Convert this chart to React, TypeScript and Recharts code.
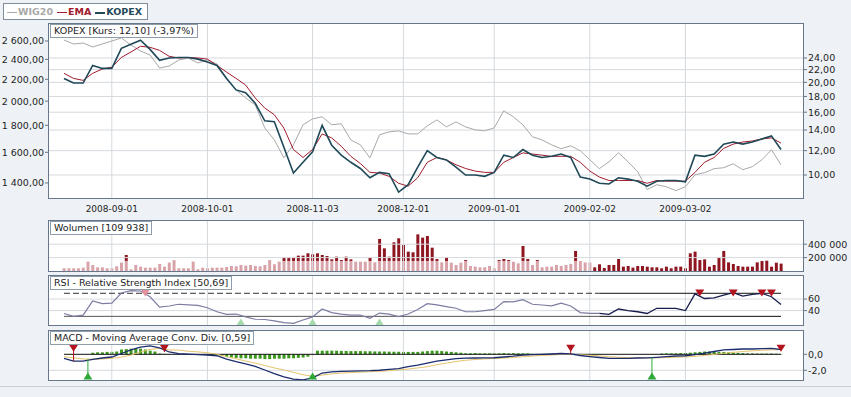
import React from 'react';
import { ComposedChart, Line, Bar, XAxis, YAxis, ReferenceLine, Scatter } from 'recharts';

// session index of each date label on the time axis
const dateTicks = [10, 30, 52, 71, 90, 110, 130];
const dateLabels = ['2008-09-01', '2008-10-01', '2008-11-03', '2008-12-01', '2009-01-01', '2009-02-02', '2009-03-02'];

// price lines are read every second session
const STEP = 2;

const wig20 = [
  2611, 2566, 2577, 2533, 2566, 2600, 2634, 2555, 2489, 2446,
  2311, 2331, 2393, 2414, 2362, 2393, 2352, 2213, 2100, 2028,
  1968, 1780, 1689, 1562, 1653, 1804, 1851, 1868, 1804, 1812,
  1689, 1653, 1562, 1727, 1749, 1757, 1734, 1734, 1796, 1843,
  1788, 1827, 1788, 1765, 1757, 1780, 1917, 1868, 1804, 1712,
  1689, 1653, 1625, 1646, 1611, 1549, 1490, 1535, 1597, 1535,
  1471, 1360, 1389, 1377, 1354, 1377, 1451, 1464, 1490, 1496,
  1522, 1483, 1503, 1549, 1618, 1515,
];

const ema = [
  21.4, 20.6, 20.3, 21.4, 22.1, 22.4, 24.1, 25.1, 26.2, 26.0,
  25.4, 24.3, 24.0, 24.1, 24.0, 23.8, 22.7, 21.6, 20.6, 19.6,
  17.8, 16.5, 15.7, 14.2, 12.1, 11.4, 12.1, 13.6, 13.2, 12.4,
  11.5, 10.9, 10.2, 10.15, 9.9, 9.4, 9.2, 9.8, 11.0, 11.4,
  11.2, 10.8, 10.5, 10.3, 10.2, 10.2, 11.0, 11.4, 11.8, 11.7,
  11.6, 11.5, 11.5, 11.5, 11.0, 10.3, 9.85, 9.6, 9.6, 9.6,
  9.6, 9.4, 9.6, 9.55, 9.55, 9.55, 10.2, 11.0, 11.4, 12.2,
  12.6, 12.8, 12.9, 13.1, 13.2, 12.7,
];

const kopex = [
  20.6, 19.9, 19.9, 22.7, 22.2, 22.2, 25.8, 26.6, 27.4, 25.6,
  23.6, 24.0, 24.1, 24.1, 23.8, 23.3, 22.7, 20.6, 18.9, 18.5,
  17.1, 15.0, 14.9, 12.3, 10.15, 11.0, 11.9, 14.5, 12.5, 11.6,
  11.0, 10.5, 9.8, 10.2, 10.1, 8.8, 9.3, 10.6, 12.0, 11.4,
  11.2, 10.6, 10.0, 10.0, 9.9, 10.2, 11.6, 11.4, 12.1, 11.6,
  11.4, 11.5, 11.7, 11.4, 9.85, 9.7, 9.4, 9.35, 9.8, 9.7,
  9.55, 9.2, 9.55, 9.6, 9.6, 9.5, 11.6, 11.5, 11.7, 12.6,
  12.8, 12.6, 12.8, 13.1, 13.4, 12.1,
];

const rsi = [
  35, 30, 32, 56.6, 52, 53, 70.5, 74.5, 74, 64,
  46, 48, 51, 50, 49, 45, 38, 33.5, 34, 29,
  25, 24.5, 22.3, 19, 18, 23.6, 29, 42.7, 36.6, 34,
  32.3, 32.3, 26.5, 35.7, 34, 29.6, 34, 41.8, 52, 50,
  47, 44, 38, 38, 40, 42, 55.7, 55, 59, 51,
  49.7, 48.3, 53, 48, 36.6, 35, 35, 33.5, 42.7, 40,
  38, 35, 44, 44, 44, 40, 69, 61, 62, 67,
  71, 65, 68, 70, 64, 50.7,
];

const macd = [
  -0.5, -0.84, -0.84, -0.63, -0.46, -0.34, 0.1, 0.54, 0.91, 1.06,
  0.79, 0.29, 0.08, 0.01, -0.04, -0.09, -0.18, -0.59, -0.93, -1.21,
  -1.5, -1.96, -2.4, -2.81, -3.09, -3.19, -2.94, -2.34, -2.19, -2.13,
  -2.09, -2.08, -2.05, -1.99, -1.88, -1.78, -1.55, -1.34, -1.09, -0.84,
  -0.69, -0.53, -0.49, -0.46, -0.44, -0.43, -0.34, -0.24, -0.11, -0.04,
  0, 0.04, 0.1, 0.06, -0.15, -0.28, -0.4, -0.5, -0.5, -0.5,
  -0.46, -0.44, -0.38, -0.3, -0.21, -0.18, -0.05, 0.16, 0.35, 0.54,
  0.6, 0.66, 0.66, 0.7, 0.73, 0.6,
];

const macdSignal = [
  -0.3, -0.45, -0.58, -0.62, -0.58, -0.5, -0.35, -0.1, 0.3, 0.6,
  0.75, 0.55, 0.52, 0.38, 0.3, 0.2, 0.0, -0.3, -0.55, -0.85,
  -1.1, -1.4, -1.7, -1.95, -2.25, -2.55, -2.75, -2.6, -2.45, -2.35,
  -2.28, -2.23, -2.18, -2.12, -2.05, -1.95, -1.85, -1.7, -1.55, -1.3,
  -1.1, -0.9, -0.75, -0.65, -0.58, -0.52, -0.47, -0.4, -0.3, -0.22,
  -0.15, -0.08, -0.03, 0.0, -0.05, -0.12, -0.2, -0.3, -0.37, -0.42,
  -0.44, -0.45, -0.44, -0.41, -0.37, -0.32, -0.25, -0.14, -0.02, 0.12,
  0.25, 0.35, 0.43, 0.5, 0.55, 0.58,
];

// one value per session (volume in thousands)
const volume = [
  40, 40, 40, 40, 50, 140, 90, 55, 55, 40,
  40, 70, 125, 239, 25, 90, 65, 50, 50, 50,
  105, 65, 125, 155, 40, 40, 40, 140, 25, 50,
  40, 50, 50, 50, 60, 75, 70, 90, 80, 90,
  75, 70, 90, 155, 100, 140, 199, 199, 199, 229,
  229, 264, 249, 264, 239, 224, 174, 214, 164, 214,
  174, 139, 139, 139, 199, 129, 478, 338, 214, 428,
  488, 388, 289, 279, 547, 498, 522, 348, 179, 129,
  204, 124, 90, 124, 164, 75, 65, 55, 55, 75,
  40, 164, 179, 164, 139, 114, 373, 179, 90, 164,
  55, 65, 65, 90, 75, 90, 105, 299, 149, 129,
  124, 55, 100, 45, 90, 90, 179, 65, 75, 50,
  75, 75, 65, 55, 55, 40, 65, 40, 65, 65,
  40, 264, 289, 164, 174, 65, 90, 204, 299, 129,
  105, 75, 65, 65, 65, 129, 149, 154, 65, 124, 110,
];

const histogram = [
  0, 0, 0, 0, 0, 0, 0.2, 0.25, 0.25, 0.3,
  0.3, 0.35, 0.6, 0.65, 0.7, 0.75, 0.7, 0.6, 0.45, 0.35,
  0.1, 0.05, 0, 0, 0, 0.05, 0, 0, 0, 0,
  -0.05, -0.1, -0.15, -0.2, -0.35, -0.4, -0.45, -0.5, -0.5, -0.55,
  -0.55, -0.55, -0.6, -0.6, -0.55, -0.55, -0.55, -0.5, -0.5, -0.45,
  -0.4, -0.3, -0.1, 0.45, 0.45, 0.45, 0.45, 0.45, 0.42, 0.42,
  0.4, 0.4, 0.4, 0.38, 0.38, 0.36, 0.35, 0.35, 0.33, 0.32,
  0.32, 0.3, 0.3, 0.3, 0.3, 0.35, 0.4, 0.45, 0.45, 0.4,
  0.35, 0.3, 0.25, 0.2, 0.12, 0.12, 0.15, 0.12, 0.12, 0.12,
  0.12, 0.12, 0.15, 0.12, 0.12, 0.12, 0.12, 0.12, 0.05, 0.05,
  0.05, 0.05, 0.05, 0.05, 0.05, 0.05, 0.05, 0.05, 0.05, 0,
  0, 0, 0, 0, 0, 0, 0, 0, 0, 0,
  0, 0, 0, 0, 0, 0.1, 0.12, 0.12, 0.12, 0.15,
  0.15, 0.2, 0.25, 0.3, 0.35, 0.35, 0.35, 0.3, 0.3, 0.25,
  0.2, 0.18, 0.15, 0.12, 0.12, 0.1, 0.1, 0.1, 0.1, 0.08, 0.05,
];

// signal markers (session index)
const rsiSell = [17, 133, 140, 146, 148];
const rsiBuy = [37, 52, 66];
const macdSell = [2, 21, 106, 150];
const macdBuy = [5, 52, 123];

const wigTicks = [1400, 1600, 1800, 2000, 2200, 2400, 2600];
const kopexTicks = [10, 12, 14, 16, 18, 20, 22, 24];
const volTicks = [200, 400];
const rsiTicks = [40, 60];
const macdTicks = [-2, 0];

// highlighted period starts here
const SPLIT_I = 111;
const VOL_BASE = 150;

const X_DOMAIN: [number, number] = [-3.14, 154.6];
const FONT = '"DejaVu Sans", Verdana, sans-serif';
const BORDER = '#66778a';
const GRID = '#d5d9de';
const NBSP = '\u00a0';

const fmtMoney = (v: number) => {
  const [a, b] = v.toFixed(2).split('.');
  return a.replace(/\B(?=(\d{3})+(?!\d))/g, NBSP) + ',' + b;
};
const fmtDate = (v: number) => dateLabels[dateTicks.indexOf(v)] ?? '';

const mainData = kopex.map((v, k) => ({ i: k * STEP, wig: wig20[k], ema: ema[k], kopex: v }));
const volData = volume.map((v, i) => ({
  i,
  pink: i < SPLIT_I ? Math.min(v, VOL_BASE) : 0,
  dark: i < SPLIT_I ? Math.max(v - VOL_BASE, 0) : v,
}));
const rsiData = rsi.map((v, k) => ({
  i: k * STEP,
  a: k * STEP <= SPLIT_I + 1 ? v : null,
  b: k * STEP >= SPLIT_I + 1 ? v : null,
}));
const macdData = histogram.map((h, i) => ({
  i,
  h,
  macd: i % STEP === 0 ? macd[i / STEP] : null,
  signal: i % STEP === 0 ? macdSignal[i / STEP] : null,
}));
const macdAt = (i: number) => macd[Math.round(i / STEP)];

const tri = (color: string, down: boolean) => (p: any) => {
  const { cx, cy } = p;
  if (cx == null || cy == null) return <g />;
  const d = down
    ? `M${cx - 4.5},${cy - 3.5}L${cx + 4.5},${cy - 3.5}L${cx},${cy + 3.5}Z`
    : `M${cx - 4.5},${cy + 3.5}L${cx + 4.5},${cy + 3.5}L${cx},${cy - 3.5}Z`;
  return <path d={d} fill={color} />;
};

const tickStyle = { fontSize: 9.5, fill: '#1e1e1e', fontFamily: FONT };

const Box = ({ top, height }: { top: number; height: number }) => (
  <div style={{ position: 'absolute', left: 48, top, width: 756, height, boxSizing: 'border-box', border: `1px solid ${BORDER}`, background: '#fff' }} />
);

const Label = ({ top, text }: { top: number; text: string }) => (
  <div style={{ position: 'absolute', left: 50, top, height: 12, lineHeight: '12px', padding: '0 3px', fontSize: 9.5, color: '#222', background: '#fff', border: '1px solid #8f9caa', whiteSpace: 'nowrap' }}>{text}</div>
);

const vGrid = (yAxisId?: string) =>
  dateTicks.map(t => <ReferenceLine key={'v' + t} x={t} yAxisId={yAxisId} stroke={GRID} />);

const rightAxis = {
  orientation: 'right' as const,
  allowDataOverflow: true,
  interval: 0,
  width: 48,
  axisLine: false,
  tickSize: 4,
  tickMargin: 1,
  tick: tickStyle,
  tickLine: { stroke: BORDER },
};

const App: React.FC = () => {
  return (
    <div style={{ position: 'absolute', left: 0, top: 0, width: 851, height: 397, background: '#eef2f6', fontFamily: FONT, overflow: 'hidden' }}>
      <div style={{ position: 'absolute', left: 0, top: 386, width: 851, height: 1, background: '#c8d0d8' }} />

      <Box top={23} height={176} />
      <Box top={220} height={52} />
      <Box top={275} height={51} />
      <Box top={330} height={51} />

      {/* price panel */}
      <div style={{ position: 'absolute', left: 0, top: 24 }}>
        <ComposedChart width={851} height={194} data={mainData} margin={{ top: 0, right: 0, bottom: 0, left: 0 }}>
          <XAxis type="number" dataKey="i" domain={X_DOMAIN} allowDataOverflow ticks={dateTicks} interval={0}
            tickFormatter={fmtDate} axisLine={false} tickLine={false} height={20} tick={{ ...tickStyle, fontSize: 9 }} />
          <YAxis yAxisId="left" orientation="left" scale="log" domain={[1311, 2800]} allowDataOverflow ticks={wigTicks} interval={0}
            tickFormatter={fmtMoney} width={49} axisLine={false} tickSize={4} tickMargin={1} tick={tickStyle} tickLine={{ stroke: BORDER }} />
          <YAxis yAxisId="right" {...rightAxis} scale="log" domain={[8.42, 30.95]} ticks={kopexTicks}
            tickFormatter={(v: number) => v.toFixed(2).replace('.', ',')} />
          {kopexTicks.map(t => <ReferenceLine key={'h' + t} yAxisId="right" y={t} stroke={GRID} />)}
          {vGrid('right')}
          <Line yAxisId="left" dataKey="wig" stroke="#a9a9a9" strokeWidth={1} dot={false} isAnimationActive={false} />
          <Line yAxisId="right" dataKey="ema" stroke="#a01c2e" strokeWidth={1} dot={false} isAnimationActive={false} />
          <Line yAxisId="right" dataKey="kopex" stroke="#1f4858" strokeWidth={1.6} dot={false} isAnimationActive={false} />
        </ComposedChart>
      </div>

      {/* volume panel */}
      <div style={{ position: 'absolute', left: 0, top: 221 }}>
        <ComposedChart width={851} height={50} data={volData} margin={{ top: 0, right: 0, bottom: 0, left: 49 }}>
          <XAxis type="number" dataKey="i" domain={X_DOMAIN} allowDataOverflow hide />
          <YAxis {...rightAxis} domain={[0, 746]} ticks={volTicks} tickFormatter={(v: number) => `${v}${NBSP}000`} />
          {volTicks.map(t => <ReferenceLine key={t} y={t} stroke={GRID} />)}
          {vGrid()}
          <Bar dataKey="pink" stackId="v" fill="#d9a3aa" barSize={3} isAnimationActive={false} />
          <Bar dataKey="dark" stackId="v" fill="#8e1620" barSize={3} isAnimationActive={false} />
        </ComposedChart>
      </div>

      {/* RSI panel */}
      <div style={{ position: 'absolute', left: 0, top: 276 }}>
        <ComposedChart width={851} height={49} data={rsiData} margin={{ top: 0, right: 0, bottom: 0, left: 49 }}>
          <XAxis type="number" dataKey="i" domain={X_DOMAIN} allowDataOverflow hide />
          <YAxis {...rightAxis} domain={[15, 100]} ticks={rsiTicks} />
          {rsiTicks.map(t => <ReferenceLine key={t} y={t} stroke={GRID} />)}
          {vGrid()}
          <ReferenceLine segment={[{ x: 0, y: 70 }, { x: SPLIT_I + 1, y: 70 }]} stroke="#333" strokeDasharray="6 3" />
          <ReferenceLine segment={[{ x: SPLIT_I + 1, y: 70 }, { x: 150, y: 70 }]} stroke="#111" />
          <ReferenceLine segment={[{ x: 0, y: 30 }, { x: SPLIT_I + 1, y: 30 }]} stroke="#555" />
          <ReferenceLine segment={[{ x: SPLIT_I + 1, y: 30 }, { x: 150, y: 30 }]} stroke="#111" />
          <Line dataKey="a" stroke="#7c7ca2" strokeWidth={1.2} dot={false} isAnimationActive={false} />
          <Line dataKey="b" stroke="#161c4c" strokeWidth={1.3} dot={false} isAnimationActive={false} />
          <Scatter data={rsiSell.map(i => ({ i, y: 70.5 }))} dataKey="y"
            shape={(p: any) => tri(p.payload.i < SPLIT_I ? '#e5929c' : '#b3121f', true)(p)} isAnimationActive={false} />
          <Scatter data={rsiBuy.map(i => ({ i, y: 20 }))} dataKey="y" shape={tri('#a3d9ab', false)} isAnimationActive={false} />
        </ComposedChart>
      </div>

      {/* MACD panel */}
      <div style={{ position: 'absolute', left: 0, top: 331 }}>
        <ComposedChart width={851} height={49} data={macdData} margin={{ top: 0, right: 0, bottom: 0, left: 49 }}>
          <XAxis type="number" dataKey="i" domain={X_DOMAIN} allowDataOverflow hide />
          <YAxis {...rightAxis} domain={[-3.21, 2.91]} ticks={macdTicks}
            tickFormatter={(v: number) => v.toFixed(1).replace('.', ',')} />
          <ReferenceLine y={-2} stroke={GRID} />
          {vGrid()}
          <Bar dataKey="h" fill="#3b9a1d" barSize={3} isAnimationActive={false} />
          <ReferenceLine segment={[{ x: 0, y: 0 }, { x: 150, y: 0 }]} stroke="#111" />
          <Line dataKey="signal" stroke="#e6c46c" strokeWidth={1} dot={false} connectNulls isAnimationActive={false} />
          <Line dataKey="macd" stroke="#1c2c6c" strokeWidth={1.3} dot={false} connectNulls isAnimationActive={false} />
          {macdSell.map(i => <ReferenceLine key={'s' + i} segment={[{ x: i, y: 0.75 }, { x: i, y: macdAt(i) }]} stroke="#b3121f" />)}
          {macdBuy.map(i => <ReferenceLine key={'b' + i} segment={[{ x: i, y: -2.71 }, { x: i, y: macdAt(i) }]} stroke="#2fa83a" />)}
          <Scatter data={macdSell.map(i => ({ i, y: 0.75 }))} dataKey="y" shape={tri('#b3121f', true)} isAnimationActive={false} />
          <Scatter data={macdBuy.map(i => ({ i, y: -2.71 }))} dataKey="y" shape={tri('#2fa83a', false)} isAnimationActive={false} />
        </ComposedChart>
      </div>

      <Label top={24} text="KOPEX [Kurs: 12,10] (-3,97%)" />
      <Label top={221} text="Wolumen [109 938]" />
      <Label top={276} text="RSI - Relative Strength Index [50,69]" />
      <Label top={331} text="MACD - Moving Average Conv. Div. [0,59]" />

      {/* legend */}
      <div style={{ position: 'absolute', left: 3, top: 3, width: 145, height: 17, boxSizing: 'border-box', border: '1px solid #7f8e9c', background: '#fff', fontSize: 9.5, fontWeight: 'bold', lineHeight: '15px', paddingLeft: 3, whiteSpace: 'nowrap' }}>
        {[['WIG20', '#a9a9a9', 1], ['EMA', '#a01c2e', 1], ['KOPEX', '#1f4858', 2]].map(([name, color, w]) => (
          <span key={name as string} style={{ marginRight: 4, color: color as string }}>
            <span style={{ display: 'inline-block', width: 10, height: w as number, background: color as string, verticalAlign: 'middle', marginRight: 1 }} />
            {name}
          </span>
        ))}
      </div>
    </div>
  );
};

export default App;
